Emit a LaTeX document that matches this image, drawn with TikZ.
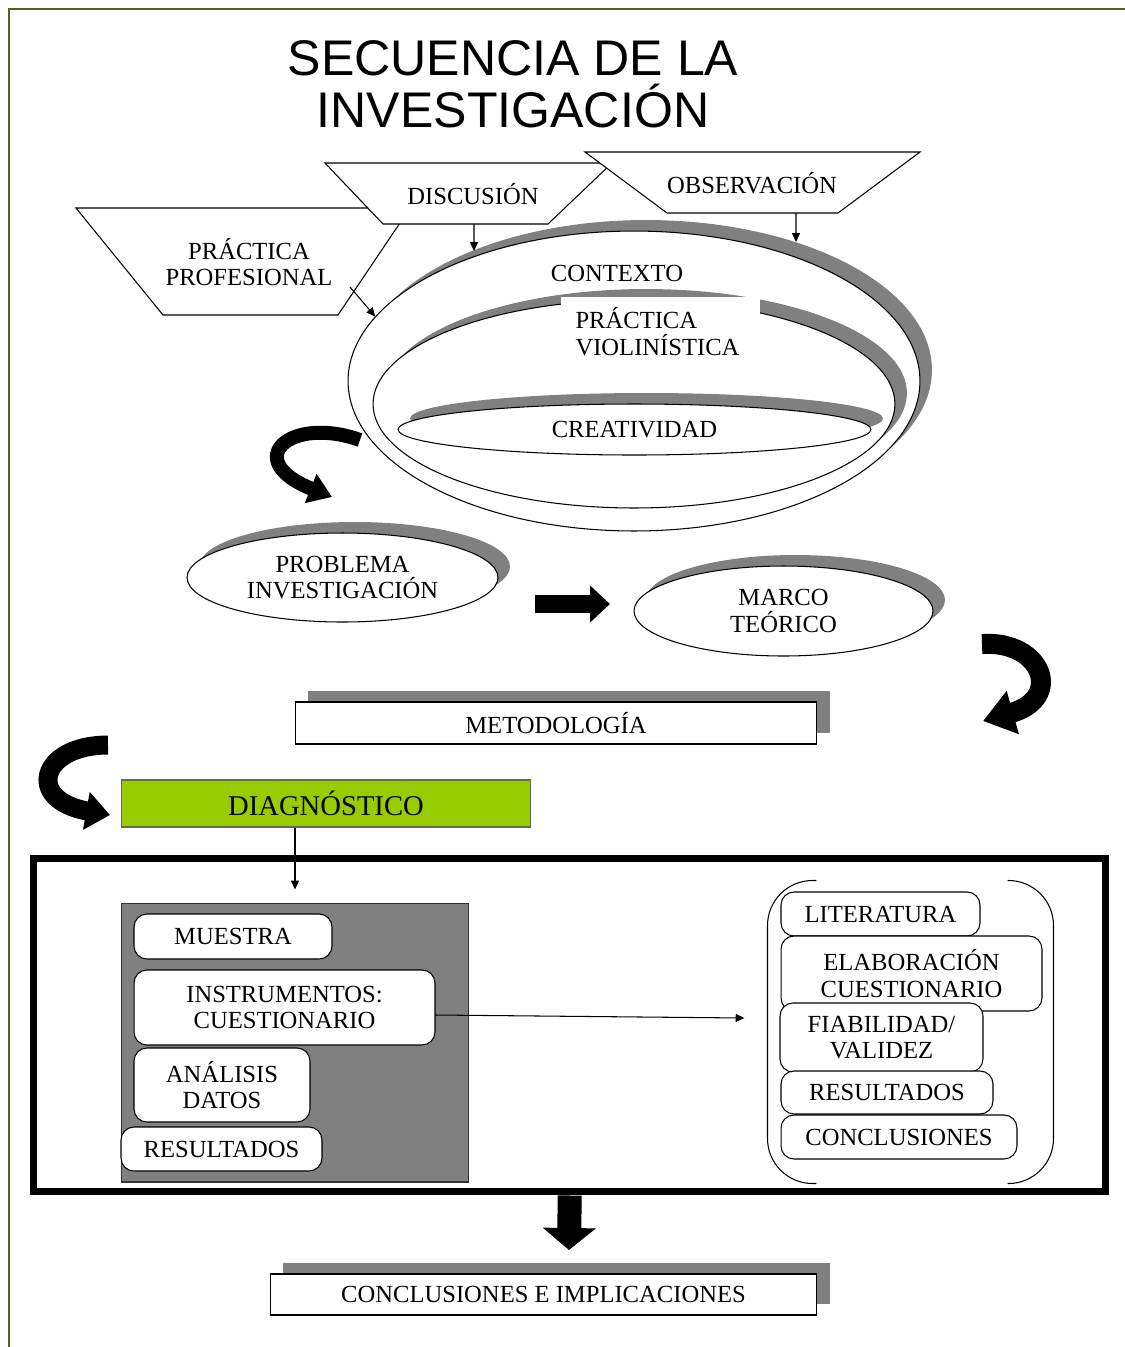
\documentclass[tikz,border=0pt]{standalone}
\usepackage{fontspec}
\setmainfont{Liberation Serif}
\newfontfamily\titlefont{Liberation Sans}
\usetikzlibrary{shapes.geometric,shadows,arrows.meta}
\definecolor{framegreen}{HTML}{4F6228}
\definecolor{diaggreen}{HTML}{99CC00}
\definecolor{shadowgray}{HTML}{808080}
\tikzset{
  txt/.style={font=\fontsize{14}{15.3}\selectfont, align=center},
  trap/.style={draw, fill=white},
  ring/.style={ellipse, draw, fill=white, inner sep=0pt, txt,
    drop shadow={shadow xshift=0.24cm, shadow yshift=0.22cm, fill=shadowgray, opacity=1}},
  shadebox/.style={rectangle, draw, fill=white, inner sep=0pt, txt,
    drop shadow={shadow xshift=0.26cm, shadow yshift=0.23cm, fill=shadowgray, opacity=1}},
  listbox/.style={rectangle, rounded corners=0.26cm, draw, fill=white, inner sep=0pt, txt},
  thinarrow/.style={-{Triangle[length=5pt,width=4.5pt]}},
}

\begin{document}
\begin{tikzpicture}[x=0.02cm, y=-0.02cm, line width=0.6pt]
  \useasboundingbox (0,0) rectangle (1125,1347);
  % page frame
  \draw[framegreen, line width=1.2pt] (9,1347) -- (9,9) -- (1125,9);
  % title
  \node[font=\titlefont\fontsize{28.5}{29.5}\selectfont, align=center] (title) at (513,84)
    {SECUENCIA DE LA\\INVESTIGACIÓN};

  % sources
  \draw[trap] (76,208) -- (410,208) -- (338,315) -- (163,315) -- cycle;
  \node[txt] (prac) at (249,262) {PRÁCTICA\\PROFESIONAL};
  \draw[trap] (325,163) -- (612,163) -- (548,224) coordinate (discB) -- (383,224) -- cycle;
  \node[txt] (disc) at (473,194) {DISCUSIÓN};
  \draw[trap] (585,152) -- (920,152) -- (838,213) coordinate (obsB) -- (667,213) -- cycle;
  \node[txt] (obs) at (752,183) {OBSERVACIÓN};

  % nested ellipses
  \node[ring, minimum width=11.44cm, minimum height=6cm] (contexto) at (634,381) {};
  \node[ring, minimum width=10.44cm, minimum height=4.16cm] (violin) at (634,404) {};
  \node[ring, minimum width=9.46cm, minimum height=1.02cm] (creat) at (634.5,429.5) {CREATIVIDAD};
  \node[txt] (ctxlabel) at (617,273) {CONTEXTO};
  \node[txt, fill=white, align=left, text width=3.4cm, inner xsep=0.3cm, inner ysep=0.22cm,
    anchor=north west] (violabel) at (560,296) {PRÁCTICA\\VIOLINÍSTICA};

  \coordinate (ctxA) at (474,251);
  \coordinate (ctxB) at (796,242);
  \draw[thinarrow] ([xshift=-1.48cm]discB) -- (ctxA);
  \draw[thinarrow] ([xshift=-0.84cm]obsB) -- (ctxB);
  \draw[thinarrow] ([shift={(2.02cm,-0.5cm)}]prac.center) -- (contexto.166);

  % research steps
  \node[ring, minimum width=6.22cm, minimum height=1.78cm] (prob) at (342.5,577.5) {PROBLEMA\\INVESTIGACIÓN};
  \node[ring, minimum width=5.98cm, minimum height=1.8cm] (marco) at (783.5,611) {MARCO\\TEÓRICO};
  \node[shadebox, minimum width=10.44cm, minimum height=0.84cm] (metod) at (556,723) {METODOLOGÍA};
  \node[rectangle, draw=black!60, fill=diaggreen, minimum width=8.2cm, minimum height=0.94cm,
    font=\fontsize{16.3}{18}\selectfont] (diag) at (326,803.5) {DIAGNÓSTICO};

  % bold arrows
  \coordinate (c1a) at (360,440); \coordinate (c1b) at (332,497);
  \draw[line width=0.28cm, -{Triangle[length=0.46cm,width=0.6cm]}] (c1a) .. controls (290,415) and (240,460) .. (c1b);
  \coordinate (pa) at (535,604); \coordinate (pb) at (610,604);
  \draw[line width=0.36cm, -{Triangle[length=0.4cm,width=0.72cm]}] (pa) -- (pb);
  \coordinate (c2a) at (982,644); \coordinate (c2b) at (983,721);
  \draw[line width=0.4cm, -{Triangle[length=0.62cm,width=0.86cm]}] (c2a) .. controls (1042,640) and (1064,698) .. (c2b);
  \coordinate (c3a) at (108,745); \coordinate (c3b) at (110,815);
  \draw[line width=0.38cm, -{Triangle[length=0.48cm,width=0.74cm]}] (c3a) .. controls (40,745) and (25,800) .. (c3b);

  % diagnosis block
  \node[draw, line width=4pt, minimum width=21.45cm, minimum height=6.68cm, inner sep=0pt] (frame) at (569.75,1025) {};
  \node[draw=black!80, fill=shadowgray, minimum width=6.96cm, minimum height=5.58cm, inner sep=0pt] (panel) at (295,1042.5) {};
  \node[listbox, minimum width=3.96cm, minimum height=0.9cm] (muestra) at (233,936.5) {MUESTRA};
  \node[listbox, minimum width=6.02cm, minimum height=1.5cm] (instr) at (284.5,1007.5) {INSTRUMENTOS:\\CUESTIONARIO};
  \node[listbox, minimum width=3.52cm, minimum height=1.48cm] (anal) at (222,1085) {ANÁLISIS\\DATOS};
  \node[listbox, minimum width=4.02cm, minimum height=0.88cm] (resulA) at (221.5,1149) {RESULTADOS};

  \node[minimum width=5.7cm, minimum height=6.04cm, inner sep=0pt] (grp) at (910.5,1032) {};
  \draw[rounded corners=0.9cm] ([xshift=0.98cm]grp.north west) -- (grp.north west) -- (grp.south west) -- ([xshift=0.98cm]grp.south west);
  \draw[rounded corners=0.9cm] ([xshift=-0.92cm]grp.north east) -- (grp.north east) -- (grp.south east) -- ([xshift=-0.92cm]grp.south east);
  \node[listbox, minimum width=3.98cm, minimum height=0.88cm] (lit) at (880.5,914) {LITERATURA};
  \node[listbox, minimum width=5.22cm, minimum height=1.5cm] (elab) at (911.5,973.5) {ELABORACIÓN\\CUESTIONARIO};
  \node[listbox, minimum width=4.06cm, minimum height=1.38cm] (fiab) at (881.5,1037.5) {FIABILIDAD/\\VALIDEZ};
  \node[listbox, minimum width=4.24cm, minimum height=0.86cm] (resulB) at (887,1092.5) {RESULTADOS};
  \node[listbox, minimum width=4.72cm, minimum height=0.88cm] (conclB) at (899,1137) {CONCLUSIONES};

  \draw[thinarrow] (diag.south -| panel.north) -- ([yshift=0.26cm]panel.north);
  \draw[thinarrow] ([yshift=-0.15cm]instr.east) -- ([xshift=-0.46cm,yshift=0.28cm]grp.west);

  % outcome
  \node[shadebox, minimum width=10.94cm, minimum height=0.82cm] (final) at (543.5,1294.5) {CONCLUSIONES E IMPLICACIONES};
  \coordinate (downtip) at (569,1250);
  \draw[line width=0.48cm, -{Triangle[length=0.44cm,width=1.04cm]}] (frame.south) -- (downtip);
\end{tikzpicture}
\end{document}
